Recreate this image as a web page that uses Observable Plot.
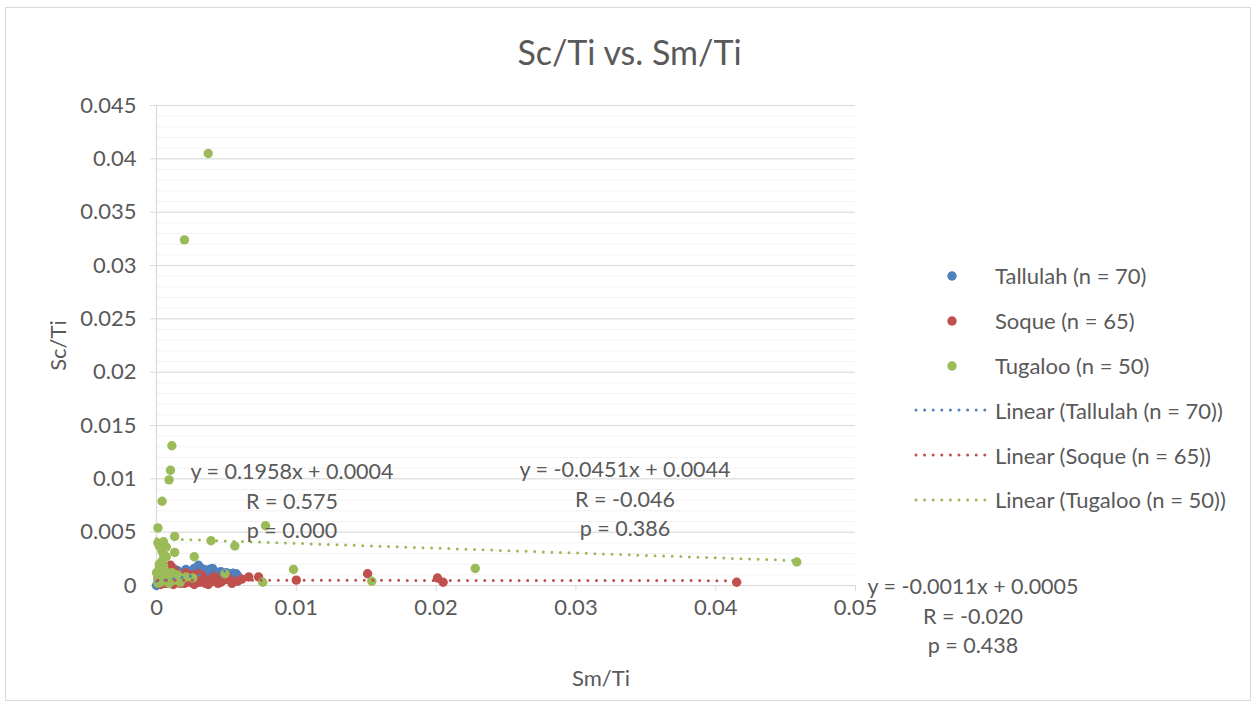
<!DOCTYPE html>
<html>
<head>
<meta charset="utf-8">
<script src="https://cdn.jsdelivr.net/npm/d3@7"></script>
<script src="https://cdn.jsdelivr.net/npm/@observablehq/plot@0.6"></script>
<style>
  html, body { margin: 0; padding: 0; background: #fff; }
  #chart { position: relative; width: 1259px; height: 703px; font-family: Lato, "Open Sans", sans-serif; color: #595959; overflow: hidden; }
  #chart > svg { position: absolute; left: 0; top: 0; }
  .frame { position: absolute; left: 5px; top: 7px; width: 1246px; height: 694px; border: 1px solid #d9d9d9; box-sizing: border-box; pointer-events: none; }
  .title { position: absolute; left: 0; width: 1259px; top: 30px; text-align: center; font-size: 34px; line-height: 44px; }
  .legend { position: absolute; left: 913px; top: 253.6px; font-size: 22px; }
  .legend .row { height: 44.8px; display: flex; align-items: center; }
  .legend .sym { display: block; width: 75px; height: 12px; margin-right: 7px; }
  .note { position: absolute; font-size: 21.5px; text-align: center; line-height: 29.5px; white-space: nowrap; }
</style>
</head>
<body>
<div id="chart"></div>
<script>
// Sm/Ti (x) and Sc/Ti (y) ratios for each river sample set
const tallulahX = [0.0030,0.0031,0.0034,0.0036,0.0039,0.0042,0.0045,0.0048,0.0052,0.0058,
  0.0028,0.0025,0.0022,0.0015,0.0018,0.0012,0.0009,0.0006,0.0003,0.0000,
  0.0040,0.0035,0.0032,0.0027,0.0044,0.0050,0.0055,0.0020,0.0016,0.0011,
  0.0008,0.0005,0.0002,0.0024,0.0029,0.0037,0.0043,0.0047,0.0013,0.0019,
  0.0026,0.0033,0.0038,0.0041,0.0046,0.0053,0.0021,0.0017,0.0010,0.0007,
  0.0004,0.0001,0.0023,0.0030,0.0034,0.0039,0.0049,0.0014,0.0009,0.0006,
  0.0027,0.0031,0.0036,0.0044,0.0051,0.0057,0.0012,0.0018,0.0025,0.0040];
const tallulahY = [0.0019,0.0017,0.0015,0.0013,0.0012,0.0013,0.0011,0.0010,0.0009,0.0009,
  0.0014,0.0011,0.0013,0.0014,0.0009,0.0011,0.0008,0.0006,0.0002,0.0000,
  0.0009,0.0010,0.0012,0.0016,0.0008,0.0012,0.0007,0.0007,0.0006,0.0004,
  0.0010,0.0003,0.0005,0.0005,0.0008,0.0007,0.0005,0.0006,0.0008,0.0011,
  0.0009,0.0006,0.0015,0.0010,0.0013,0.0011,0.0015,0.0012,0.0006,0.0003,
  0.0008,0.0002,0.0010,0.0010,0.0008,0.0004,0.0008,0.0003,0.0012,0.0009,
  0.0006,0.0014,0.0011,0.0011,0.0006,0.0011,0.0016,0.0004,0.0013,0.0016];

const soqueX = [0.0151,0.0100,0.0201,0.0205,0.0415,0.0073,0.0066,0.0058,0.0052,0.0046,
  0.0042,0.0039,0.0035,0.0032,0.0029,0.0026,0.0024,0.0021,0.0019,0.0017,
  0.0015,0.0013,0.0011,0.0010,0.0009,0.0008,0.0007,0.0006,0.0005,0.0004,
  0.0003,0.0002,0.0001,0.0003,0.0006,0.0012,0.0016,0.0020,0.0023,0.0027,
  0.0031,0.0034,0.0037,0.0041,0.0044,0.0048,0.0054,0.0061,0.0018,0.0014,
  0.0009,0.0005,0.0002,0.0008,0.0025,0.0033,0.0040,0.0011,0.0004,0.0007,
  0.0022,0.0030,0.0013,0.0050,0.0003];
const soqueY = [0.0011,0.0005,0.0007,0.0003,0.0003,0.0008,0.0008,0.0004,0.0006,0.0003,
  0.0009,0.0005,0.0002,0.0007,0.0004,0.0010,0.0003,0.0012,0.0006,0.0002,
  0.0009,0.0014,0.0004,0.0019,0.0007,0.0011,0.0002,0.0016,0.0005,0.0010,
  0.0013,0.0003,0.0007,0.0001,0.0008,0.0001,0.0005,0.0002,0.0007,0.0001,
  0.0003,0.0006,0.0001,0.0004,0.0002,0.0005,0.0002,0.0006,0.0010,0.0003,
  0.0013,0.0002,0.0009,0.0005,0.0005,0.0009,0.0007,0.0008,0.0017,0.0012,
  0.0009,0.0011,0.0006,0.0009,0.0005];

const tugalooX = [0.0037,0.0020,0.0011,0.0010,0.0009,0.0004,0.0001,0.0013,0.0039,0.0056,
  0.0078,0.0001,0.0002,0.0007,0.0013,0.0004,0.0005,0.0027,0.0007,0.0004,
  0.0005,0.0002,0.0003,0.0002,0.0001,0.0001,0.0004,0.0008,0.0010,0.0013,
  0.0017,0.0021,0.0026,0.0049,0.0076,0.0098,0.0154,0.0228,0.0458,0.0003,
  0.0006,0.0002,0.0009,0.0015,0.0006,0.0000,0.0003,0.0011,0.0018,0.0005];
const tugalooY = [0.0405,0.0324,0.0131,0.0108,0.0099,0.0079,0.0054,0.0046,0.0042,0.0037,
  0.0056,0.0040,0.0037,0.0036,0.0031,0.0032,0.0029,0.0027,0.0027,0.0023,
  0.0019,0.0016,0.0013,0.0009,0.0005,0.0002,0.0006,0.0004,0.0008,0.0005,
  0.0003,0.0008,0.0007,0.0011,0.0003,0.0015,0.0004,0.0016,0.0022,0.0011,
  0.0014,0.0020,0.0002,0.0010,0.0009,0.0012,0.0003,0.0012,0.0006,0.0041];

const seriesNames = ["Tallulah (n = 70)", "Soque (n = 65)", "Tugaloo (n = 50)"];
const seriesColors = ["#4F81BD", "#C0504D", "#9BBB59"];

// Linear fit coefficients and statistics as reported for each set
const fitSlope = [0.1958, -0.0011, -0.0451];
const fitIntercept = [0.0004, 0.0005, 0.0044];
const fitR = ["0.575", "-0.020", "-0.046"];
const fitP = ["0.000", "0.438", "0.386"];

const xTicks = [0, 0.01, 0.02, 0.03, 0.04, 0.05];
const yTicks = [0, 0.005, 0.01, 0.015, 0.02, 0.025, 0.03, 0.035, 0.04, 0.045];
const yMinor = d3.range(0, 0.0451, 0.001).map(v => +v.toFixed(3));

const xs = [tallulahX, soqueX, tugalooX];
const ys = [tallulahY, soqueY, tugalooY];
const points = [];
xs.forEach((arr, s) => arr.forEach((x, i) => points.push({series: seriesNames[s], x, y: ys[s][i]})));

// Trend lines span each series' own x range
const trends = [];
xs.forEach((arr, s) => {
  const lo = d3.min(arr), hi = d3.max(arr);
  for (const x of [lo, hi]) trends.push({series: seriesNames[s], x, y: fitSlope[s] * x + fitIntercept[s]});
});

const fmt = d => String(+d.toFixed(3));

const plot = Plot.plot({
  width: 1259,
  height: 703,
  marginLeft: 156,
  marginRight: 404,
  marginTop: 105,
  marginBottom: 118,
  style: {fontFamily: "Lato, 'Open Sans', sans-serif", fontSize: "22px", color: "#595959", background: "transparent", overflow: "visible"},
  x: {domain: [0, 0.05]},
  y: {domain: [0, 0.045]},
  color: {domain: seriesNames, range: seriesColors},
  marks: [
    Plot.ruleY(yMinor, {stroke: "#f2f2f2", strokeWidth: 1}),
    Plot.ruleY(yTicks.slice(1), {stroke: "#d9d9d9", strokeWidth: 1}),
    Plot.ruleX([0], {stroke: "#d9d9d9", strokeWidth: 1.2}),
    Plot.ruleY([0], {stroke: "#d9d9d9", strokeWidth: 1.2}),
    Plot.axisY({ticks: yTicks, tickFormat: fmt, tickSize: 6, tickPadding: 14, stroke: "#d9d9d9", fill: "#595959", label: null}),
    Plot.axisX({ticks: xTicks, tickFormat: fmt, tickSize: 6, tickPadding: 8, stroke: "#d9d9d9", fill: "#595959", label: null}),
    Plot.text(["Sm/Ti"], {frameAnchor: "bottom", dx: 95, dy: 100, fill: "#595959", fontSize: 22}),
    Plot.text(["Sc/Ti"], {frameAnchor: "left", dx: -98, rotate: -90, textAnchor: "middle", fill: "#595959", fontSize: 22}),
    Plot.dot(points, {x: "x", y: "y", fill: "series", r: 4.7, stroke: null}),
    Plot.line(trends, {x: "x", y: "y", z: "series", stroke: "series", strokeWidth: 3, strokeDasharray: "0 8.6", strokeLinecap: "round"})
  ]
});

const chart = document.getElementById("chart");
chart.appendChild(plot);

const frame = document.createElement("div");
frame.className = "frame";
chart.appendChild(frame);

const title = document.createElement("div");
title.className = "title";
title.textContent = "Sc/Ti vs. Sm/Ti";
chart.appendChild(title);

// Legend: markers first, then the trend line entries
const legend = document.createElement("div");
legend.className = "legend";
const rows = seriesNames.map((n, i) => ({label: n, color: seriesColors[i], kind: "dot"}))
  .concat(seriesNames.map((n, i) => ({label: `Linear (${n})`, color: seriesColors[i], kind: "line"})));
for (const r of rows) {
  const row = document.createElement("div");
  row.className = "row";
  const sym = r.kind === "dot"
    ? `<svg class="sym" viewBox="0 0 75 12"><circle cx="39" cy="6" r="4.7" fill="${r.color}"/></svg>`
    : `<svg class="sym" viewBox="0 0 75 12"><line x1="3" x2="72" y1="6" y2="6" stroke="${r.color}" stroke-width="3" stroke-dasharray="0 8.6" stroke-linecap="round"/></svg>`;
  row.innerHTML = sym + `<span>${r.label}</span>`;
  legend.appendChild(row);
}
chart.appendChild(legend);

// Fit equation labels
const notePos = [[292, 457], [973, 572], [625, 455]];
fitSlope.forEach((m, i) => {
  const sign = fitIntercept[i] < 0 ? "-" : "+";
  const note = document.createElement("div");
  note.className = "note";
  note.innerHTML = `y = ${m.toFixed(4)}x ${sign} ${Math.abs(fitIntercept[i]).toFixed(4)}<br>R = ${fitR[i]}<br>p = ${fitP[i]}`;
  note.style.left = (notePos[i][0] - 150) + "px";
  note.style.width = "300px";
  note.style.top = notePos[i][1] + "px";
  chart.appendChild(note);
});
</script>
</body>
</html>
